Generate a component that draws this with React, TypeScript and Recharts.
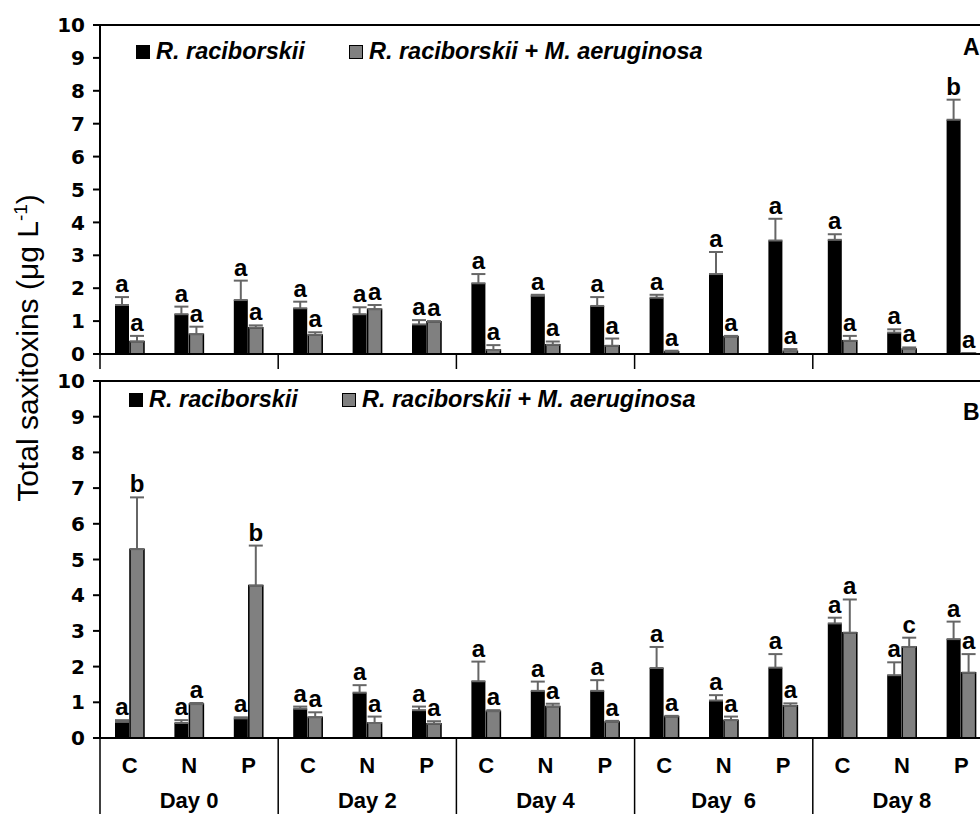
import React from 'react';
import { BarChart, Bar, XAxis, YAxis, ErrorBar, LabelList, Legend, ReferenceLine } from 'recharts';

const treatments = ['C', 'N', 'P', 'C', 'N', 'P', 'C', 'N', 'P', 'C', 'N', 'P', 'C', 'N', 'P'];
const days = ['Day 0', 'Day 2', 'Day 4', 'Day\u00a0 6', 'Day 8'];
const yTicks = [0, 1, 2, 3, 4, 5, 6, 7, 8, 9, 10];

// panel A
const soloA = [1.49, 1.21, 1.64, 1.39, 1.21, 0.9, 2.15, 1.77, 1.46, 1.71, 2.43, 3.45, 3.47, 0.65, 7.12];
const soloSeA = [0.24, 0.23, 0.59, 0.2, 0.21, 0.13, 0.28, 0.03, 0.27, 0.09, 0.67, 0.66, 0.17, 0.1, 0.61];
const mixA = [0.38, 0.6, 0.8, 0.58, 1.36, 0.98, 0.12, 0.28, 0.25, 0.07, 0.53, 0.08, 0.4, 0.15, 0.02];
const mixSeA = [0.17, 0.23, 0.07, 0.08, 0.13, 0.02, 0.15, 0.1, 0.22, 0.03, 0.02, 0.07, 0.15, 0.05, 0.01];
const soloSigA = ['a', 'a', 'a', 'a', 'a', 'a', 'a', 'a', 'a', 'a', 'a', 'a', 'a', 'a', 'b'];
const mixSigA = ['a', 'a', 'a', 'a', 'a', 'a', 'a', 'a', 'a', 'a', 'a', 'a', 'a', 'a', 'a'];

// panel B
const soloB = [0.45, 0.42, 0.55, 0.82, 1.27, 0.78, 1.59, 1.32, 1.32, 1.96, 1.05, 1.97, 3.21, 1.76, 2.77];
const soloSeB = [0.05, 0.08, 0.03, 0.06, 0.21, 0.1, 0.55, 0.26, 0.3, 0.59, 0.15, 0.38, 0.16, 0.36, 0.49];
const mixB = [5.29, 0.95, 4.27, 0.58, 0.42, 0.4, 0.75, 0.88, 0.45, 0.6, 0.5, 0.9, 2.95, 2.55, 1.83];
const mixSeB = [1.45, 0.03, 1.12, 0.14, 0.18, 0.07, 0.03, 0.08, 0.03, 0.02, 0.1, 0.07, 0.93, 0.26, 0.52];
const soloSigB = ['a', 'a', 'a', 'a', 'a', 'a', 'a', 'a', 'a', 'a', 'a', 'a', 'a', 'a', 'a'];
const mixSigB = ['b', 'a', 'b', 'a', 'a', 'a', 'a', 'a', 'a', 'a', 'a', 'a', 'a', 'c', 'a'];

const SOLO = 'R. raciborskii';
const MIX = 'R. raciborskii + M. aeruginosa';
const ARIAL = "'Liberation Sans', Arial, sans-serif";

const buildRows = (solo: number[], soloSe: number[], mix: number[], mixSe: number[], soloSig: string[], mixSig: string[]) =>
  treatments.map((t, i) => ({
    treat: t,
    solo: solo[i],
    soloErr: [0, soloSe[i]],
    mix: mix[i],
    mixErr: [0, mixSe[i]],
    soloSig: soloSig[i],
    mixSig: mixSig[i],
  }));

const rowsA = buildRows(soloA, soloSeA, mixA, mixSeA, soloSigA, mixSigA);
const rowsB = buildRows(soloB, soloSeB, mixB, mixSeB, soloSigB, mixSigB);

type Row = ReturnType<typeof buildRows>[number];

// letter sits just above the error-bar cap; cap height comes from the bar's own px/value ratio
const sigLabel = (rows: Row[], meanKey: 'solo' | 'mix', errKey: 'soloErr' | 'mixErr') => (props: any) => {
  const vb = props.viewBox && props.viewBox.width != null ? props.viewBox : props;
  const { x, y, width, height } = vb;
  const row = rows[props.index];
  if (!row) return null;
  const mean = row[meanKey];
  const pxPerUnit = mean > 0 ? Math.abs(height) / mean : 0;
  const capY = y - row[errKey][1] * pxPerUnit;
  return (
    <text x={x + width / 2} y={capY - 5} textAnchor="middle" fontFamily={ARIAL} fontWeight={700} fontSize={24} fill="#000">
      {props.value}
    </text>
  );
};

// category ticks: a day separator at the left edge of every third band,
// plus the treatment letter and the day name underneath in the table panel
const bandTick = (table: boolean) => (props: any) => {
  const { x, y, payload } = props;
  const i = payload.index ?? props.index;
  const left = x - (payload.offset ?? 0);
  return (
    <g>
      {i % 3 === 0 && <line x1={left} x2={left} y1={y} y2={y + (table ? 76 : 15)} stroke="#000" strokeWidth={1.5} />}
      {table && (
        <text x={x} y={y + 35} textAnchor="middle" fontFamily={ARIAL} fontWeight={700} fontSize={22} fill="#000">
          {payload.value}
        </text>
      )}
      {table && i % 3 === 1 && (
        <text x={x} y={y + 70} textAnchor="middle" fontFamily={ARIAL} fontWeight={700} fontSize={22} fill="#000">
          {days[Math.floor(i / 3)]}
        </text>
      )}
    </g>
  );
};

const legendBox: Record<string, React.CSSProperties> = {
  solo: { background: '#000' },
  mix: { background: '#808080', border: '1.5px solid #000', boxSizing: 'border-box' },
};

function LegendRow({ payload }: any) {
  return (
    <div style={{ display: 'flex', alignItems: 'center', fontFamily: ARIAL, fontWeight: 700, fontStyle: 'italic', fontSize: 23.5, color: '#000', whiteSpace: 'nowrap' }}>
      {(payload || []).map((p: any, i: number) => (
        <span key={p.dataKey} style={{ display: 'flex', alignItems: 'center', marginRight: i === 0 ? 44 : 0 }}>
          <span style={{ display: 'inline-block', width: 14, height: 14, marginRight: 6, ...legendBox[p.dataKey] }} />
          <span>{p.value}</span>
        </span>
      ))}
    </div>
  );
}

function Panel({ rows, top, height, legendTop, legendLeft, table }: { rows: Row[]; top: number; height: number; legendTop: number; legendLeft: number; table: boolean }) {
  return (
    <div style={{ position: 'absolute', left: 0, top, width: 1000, height }}>
      <BarChart width={1000} height={height} data={rows} margin={{ top: 25, right: 9, bottom: 0, left: 0 }} barSize={14} barGap={1}>
        <YAxis
          domain={[0, 10]}
          ticks={yTicks}
          interval={0}
          width={100}
          axisLine={{ stroke: '#000', strokeWidth: 2 }}
          tickLine={{ stroke: '#000', strokeWidth: 2 }}
          tickSize={7}
          tickMargin={8}
          tick={{ fontFamily: "'DejaVu Sans', sans-serif", fontWeight: 700, fontSize: 20, fill: '#000' }}
        />
        <XAxis
          dataKey="treat"
          interval={0}
          height={table ? 76 : 26}
          axisLine={{ stroke: '#000', strokeWidth: 2 }}
          tickLine={false}
          tickSize={0}
          tickMargin={0}
          tick={bandTick(table)}
        />
        <ReferenceLine y={10} stroke="#000" strokeWidth={2} />
        <Legend
          layout="horizontal"
          verticalAlign="middle"
          align="center"
          wrapperStyle={{ left: legendLeft, top: legendTop, width: 'auto' }}
          content={<LegendRow />}
        />
        <Bar dataKey="solo" name={SOLO} fill="#000" isAnimationActive={false}>
          <ErrorBar dataKey="soloErr" direction="y" width={7} stroke="#666" strokeWidth={2} isAnimationActive={false} />
          <LabelList dataKey="soloSig" content={sigLabel(rows, 'solo', 'soloErr')} />
        </Bar>
        <Bar dataKey="mix" name={MIX} fill="#808080" stroke="#000" strokeWidth={1.5} isAnimationActive={false}>
          <ErrorBar dataKey="mixErr" direction="y" width={7} stroke="#666" strokeWidth={2} isAnimationActive={false} />
          <LabelList dataKey="mixSig" content={sigLabel(rows, 'mix', 'mixErr')} />
        </Bar>
      </BarChart>
    </div>
  );
}

export default function App() {
  return (
    <div style={{ position: 'absolute', left: 0, top: 0, width: 980, height: 814, overflow: 'hidden', background: '#fff' }}>
      <Panel rows={rowsA} top={0} height={380} legendTop={38} legendLeft={136} table={false} />
      <Panel rows={rowsB} top={356} height={458} legendTop={30} legendLeft={129} table />
      <svg width={980} height={814} style={{ position: 'absolute', left: 0, top: 0, pointerEvents: 'none' }}>
        <text transform="translate(38, 348) rotate(-90)" textAnchor="middle" fontFamily={ARIAL} fontSize={30} fill="#000">
          Total saxitoxins (μg L<tspan dy={-11} fontSize={19}>-1</tspan><tspan dy={11}>)</tspan>
        </text>
        <text x={963} y={55} fontFamily={ARIAL} fontWeight={700} fontSize={23} fill="#000">A</text>
        <text x={963} y={420} fontFamily={ARIAL} fontWeight={700} fontSize={23} fill="#000">B</text>
      </svg>
    </div>
  );
}
